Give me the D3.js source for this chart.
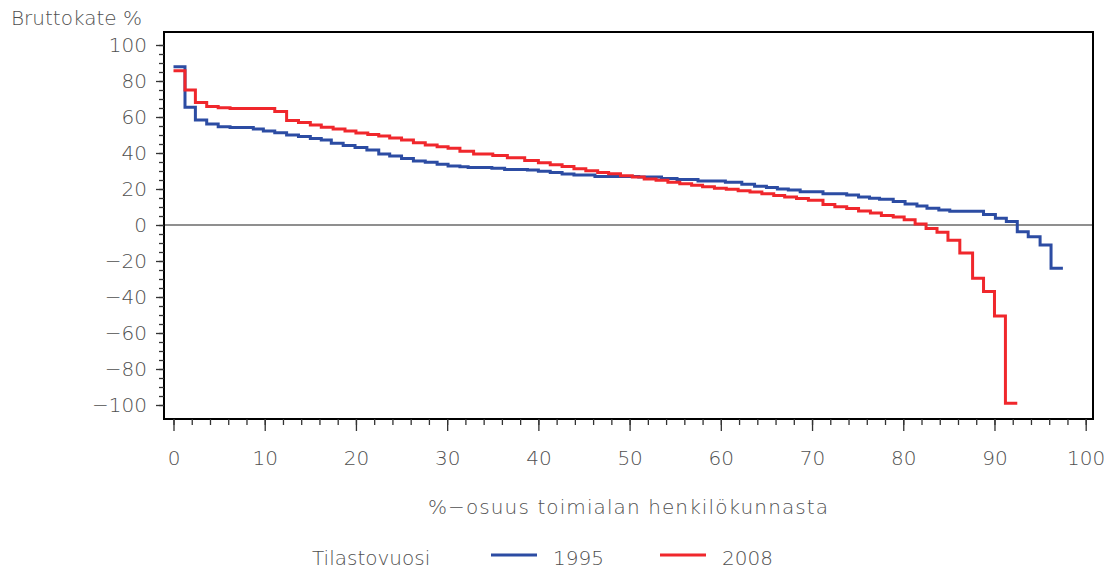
<!DOCTYPE html>
<html>
<head>
<meta charset="utf-8">
<script src="https://cdn.jsdelivr.net/npm/d3@7/dist/d3.min.js"></script>
<style>
  html, body { margin: 0; padding: 0; background: #fff; }
  svg { display: block; }
  text { font-family: "DejaVu Sans ExtraLight", "DejaVu Sans", sans-serif; font-weight: 200; fill: #505050; }
</style>
</head>
<body>
<svg id="chart" width="1109" height="569"></svg>
<script>
// ---- data ----
const yearLabels = ["1995", "2008"];
const legendTitle = "Tilastovuosi";
const yTitle = "Bruttokate %";
const xTitle = "%\u2212osuus toimialan henkilökunnasta";
const xTicks = [0, 10, 20, 30, 40, 50, 60, 70, 80, 90, 100];
const yTicks = [-100, -80, -60, -40, -20, 0, 20, 40, 60, 80, 100];

// step starts (x = cumulative % of personnel) and step values (gross margin %)
const x1995 = [0, 1.26, 2.4, 3.64, 4.9, 6.2, 8.75, 9.85, 11.1, 12.4, 13.7, 15.0, 16.2, 17.3, 18.6, 19.9, 21.2, 22.5, 23.7, 25.0, 26.3, 27.6, 28.9, 30.1, 31.4, 32.3, 34.9, 36.3, 38.8, 40.0, 41.3, 42.6, 43.9, 46.2, 51.0, 53.5, 55.2, 57.5, 60.5, 62.3, 63.7, 65.0, 66.2, 67.4, 68.7, 71.2, 73.8, 75.1, 76.3, 77.4, 78.9, 80.2, 81.5, 82.6, 83.9, 85.1, 88.8, 90.1, 91.3, 92.5, 93.7, 95.0, 96.2, 97.5];
const v1995 = [87.9, 65.4, 58.3, 56.1, 54.6, 54.1, 53.3, 52.2, 51.3, 50.0, 49.1, 48.1, 47.2, 45.4, 44.1, 43.0, 41.7, 39.4, 38.3, 37.0, 35.6, 34.8, 33.7, 32.8, 32.3, 32.0, 31.5, 30.9, 30.6, 29.8, 29.2, 28.3, 27.8, 27.0, 26.6, 25.9, 25.3, 24.4, 23.7, 22.6, 21.5, 20.9, 20.0, 19.4, 18.5, 17.4, 16.7, 15.6, 14.9, 14.3, 13.0, 11.7, 10.6, 9.3, 8.3, 7.6, 5.8, 3.7, 1.9, -3.7, -6.5, -11.1, -24.0, -24.0];

const x2008 = [0, 1.26, 2.4, 3.64, 4.9, 6.2, 11.1, 12.4, 13.7, 15.0, 16.2, 17.5, 18.8, 20.0, 21.3, 22.5, 23.7, 25.0, 26.3, 27.6, 28.9, 30.1, 31.4, 32.9, 35.0, 36.6, 38.5, 40.0, 41.3, 42.6, 43.9, 45.2, 46.5, 47.7, 49.0, 50.3, 51.6, 52.9, 54.2, 55.5, 56.8, 58.0, 59.3, 60.6, 61.9, 63.2, 64.5, 65.8, 67.0, 68.3, 69.6, 71.2, 72.5, 73.8, 75.1, 76.4, 77.6, 78.9, 80.1, 81.3, 82.5, 83.7, 84.9, 86.2, 87.6, 88.8, 90.0, 91.2, 92.5];
const v2008 = [85.7, 75.0, 68.1, 65.9, 65.2, 64.7, 63.0, 58.0, 56.9, 55.6, 54.3, 53.3, 52.2, 51.1, 50.3, 49.4, 48.4, 47.2, 45.7, 44.4, 43.5, 42.6, 41.0, 39.5, 38.6, 37.3, 35.8, 34.6, 33.5, 32.5, 31.2, 30.1, 29.2, 28.5, 27.4, 26.6, 25.6, 24.8, 23.8, 22.9, 22.1, 21.2, 20.4, 19.8, 19.0, 18.3, 17.3, 16.4, 15.5, 14.7, 13.8, 11.4, 10.2, 9.2, 7.8, 6.7, 5.3, 4.4, 2.9, 0.5, -2.0, -4.0, -8.5, -15.5, -29.6, -37.0, -50.5, -99.0, -99.0];

const colors = ["#2c4ca3", "#f0272c"];

// ---- layout ----
const svg = d3.select("#chart");
const frame = { left: 164, right: 1093, top: 32, bottom: 419 };
const x = d3.scaleLinear().domain([0, 100]).range([173.5, 1085.7]);
const y = d3.scaleLinear().domain([-100, 100]).range([405, 45]);
const FONT = "'DejaVu Sans ExtraLight', 'DejaVu Sans', sans-serif";

// zero line
svg.append("line")
  .attr("x1", frame.left).attr("x2", frame.right)
  .attr("y1", y(0)).attr("y2", y(0))
  .attr("stroke", "#8f8f8f").attr("stroke-width", 2);

// series
const series = [
  { xs: x1995, vs: v1995, color: colors[0] },
  { xs: x2008, vs: v2008, color: colors[1] }
];
const line = d3.line().x(d => x(d[0])).y(d => y(d[1])).curve(d3.curveStepAfter);
series.forEach(s => {
  const pts = s.xs.map((xv, i) => [xv, s.vs[i]]);
  svg.append("path")
    .datum(pts)
    .attr("d", line)
    .attr("fill", "none")
    .attr("stroke", s.color)
    .attr("stroke-width", 3)
    .attr("stroke-linejoin", "miter")
    .attr("stroke-linecap", "butt");
});

// frame
svg.append("rect")
  .attr("x", frame.left).attr("y", frame.top)
  .attr("width", frame.right - frame.left).attr("height", frame.bottom - frame.top)
  .attr("fill", "none").attr("stroke", "#000").attr("stroke-width", 2);

// y axis
const yAxisMinor = d3.axisLeft(y).tickValues(d3.range(-100, 101, 5)).tickSize(5).tickFormat("");
svg.append("g").attr("transform", `translate(${frame.left},0)`).call(yAxisMinor)
  .call(g => g.select(".domain").remove())
  .call(g => g.selectAll("line").attr("stroke", "#333").attr("stroke-width", 1.3));
const yAxis = d3.axisLeft(y).tickValues(yTicks).tickSize(8).tickPadding(8)
  .tickFormat(d => d < 0 ? "\u2212" + Math.abs(d) : d);
svg.append("g").attr("transform", `translate(${frame.left},0)`).call(yAxis)
  .call(g => g.select(".domain").remove())
  .call(g => g.selectAll("line").attr("stroke", "#333").attr("stroke-width", 1.3))
  .call(g => g.selectAll("text").attr("font-size", 20).attr("fill", "#505050")
    .attr("font-family", FONT).attr("font-weight", 200).attr("x", -17));

// x axis
const xAxisMinor = d3.axisBottom(x).tickValues(d3.range(0, 101, 2)).tickSize(6).tickFormat("");
svg.append("g").attr("transform", `translate(0,${frame.bottom})`).call(xAxisMinor)
  .call(g => g.select(".domain").remove())
  .call(g => g.selectAll("line").attr("stroke", "#333").attr("stroke-width", 1.3));
const xAxis = d3.axisBottom(x).tickValues(xTicks).tickSize(12).tickPadding(20);
svg.append("g").attr("transform", `translate(0,${frame.bottom})`).call(xAxis)
  .call(g => g.select(".domain").remove())
  .call(g => g.selectAll("line").attr("stroke", "#333").attr("stroke-width", 1.3))
  .call(g => g.selectAll("text").attr("font-size", 20).attr("fill", "#505050")
    .attr("font-family", FONT).attr("font-weight", 200));

// titles
svg.append("text").attr("x", 11).attr("y", 25).attr("font-size", 20).text(yTitle);
svg.append("text").attr("x", 428).attr("y", 514).attr("font-size", 20)
  .attr("textLength", 400).attr("lengthAdjust", "spacing").text(xTitle);

// legend
svg.append("text").attr("x", 312).attr("y", 565).attr("font-size", 20).text(legendTitle);
const legendItems = [
  { x1: 491, x2: 537, tx: 553, label: yearLabels[0], color: colors[0] },
  { x1: 660, x2: 706, tx: 722, label: yearLabels[1], color: colors[1] }
];
legendItems.forEach(it => {
  svg.append("line").attr("x1", it.x1).attr("x2", it.x2).attr("y1", 555).attr("y2", 555)
    .attr("stroke", it.color).attr("stroke-width", 3);
  svg.append("text").attr("x", it.tx).attr("y", 565).attr("font-size", 20).text(it.label);
});
</script>
</body>
</html>
